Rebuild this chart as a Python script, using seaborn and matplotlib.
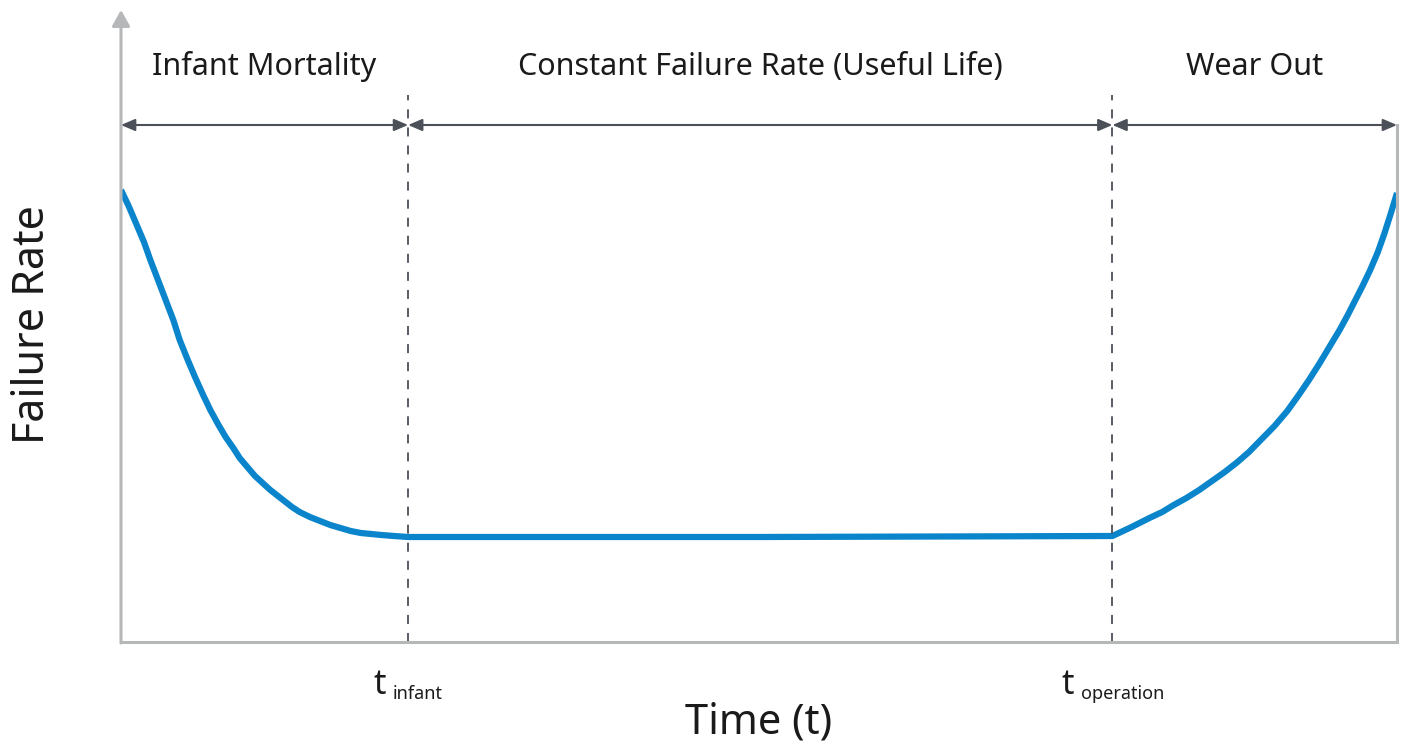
import seaborn as sns
import matplotlib.pyplot as plt
import pandas as pd

sns.set_theme(style="white")
plt.rcParams["font.family"] = ["Noto Sans", "DejaVu Sans"]

# bathtub curve (time 0..10, rate in arbitrary units)
time = [0.0, 0.06, 0.12, 0.18, 0.23, 0.29, 0.35, 0.41, 0.46, 0.52, 0.58, 0.64, 0.70,
        0.76, 0.82, 0.88, 0.93, 0.99, 1.05, 1.11, 1.17, 1.23, 1.29, 1.34, 1.40,
        1.48, 1.56, 1.64, 1.72, 1.80, 1.88, 1.96, 2.04, 2.14, 2.25, 5.0, 7.77,
        7.92, 8.06, 8.16, 8.25, 8.35, 8.45, 8.55, 8.65, 8.75, 8.84, 8.94, 9.04,
        9.14, 9.23, 9.31, 9.39, 9.47, 9.55, 9.61, 9.67, 9.73, 9.79, 9.85, 9.90,
        9.95, 10.0]
rate = [452, 436, 418, 400, 382, 362, 342, 322, 302, 283, 265, 248, 232,
        218, 205, 194, 184, 175, 166, 159, 152, 146, 140, 135, 130,
        125, 121, 117, 114, 111, 109, 108, 107, 106, 105, 105, 106,
        115, 124, 130, 137, 144, 152, 161, 170, 180, 190, 203, 216,
        231, 247, 262, 278, 295, 312, 326, 341, 356, 372, 390, 408,
        428, 449]
phases = ["Infant Mortality", "Constant Failure Rate (Useful Life)", "Wear Out"]
bounds = [0.0, 2.25, 7.77, 10.0]
bound_labels = ["infant", "operation"]

df = pd.DataFrame({"time": time, "rate": rate})

fig = plt.figure(figsize=(14.09, 7.49), dpi=100)
ax = fig.add_axes([121 / 1409, 107 / 749, 1276 / 1409, 632 / 749])

axis_col = "#b5b7b9"
dark = "#4b5059"

sns.lineplot(data=df, x="time", y="rate", ax=ax, color="#0a85cb", lw=4.5,
             solid_capstyle="butt")

ax.set_xlim(0, 10)
ax.set_ylim(0, 632)
ax.set_xticks([])
ax.set_yticks([])
ax.set_xlabel("")
ax.set_ylabel("")

for s in ["top", "left"]:
    ax.spines[s].set_visible(False)
for s in ["bottom", "right"]:
    ax.spines[s].set_color(axis_col)
    ax.spines[s].set_linewidth(2.2)
ax.spines["right"].set_bounds(0, 517)

# y axis with arrow head
ax.annotate("", xy=(0, 632), xytext=(0, -1), annotation_clip=False,
            arrowprops=dict(arrowstyle="-|>,head_length=0.8,head_width=0.45",
                            color=axis_col, lw=2.2, shrinkA=0, shrinkB=0))

# phase boundaries
for b in bounds[1:-1]:
    ax.plot([b, b], [0, 547], color=dark, lw=1.3, ls=(0, (5, 5)), clip_on=False)

# phase arrows and labels
for i, name in enumerate(phases):
    a, c = bounds[i], bounds[i + 1]
    ax.annotate("", xy=(c, 517), xytext=(a, 517), annotation_clip=False,
                arrowprops=dict(arrowstyle="<|-|>,head_length=0.7,head_width=0.3",
                                color=dark, lw=1.5, shrinkA=0, shrinkB=0))
    ax.text((a + c) / 2, 575, name, ha="center", va="center", fontsize=22,
            color="#1a1a1a")

# boundary labels: t with subscript (label groups roughly centred on the line)
shifts = {"infant": 0.0, "operation": -0.13}
for b, lab in zip(bounds[1:-1], bound_labels):
    x0 = b + shifts[lab]
    ax.text(x0 - 0.17, -43, "t", ha="right", va="center", fontsize=25,
            color="#1a1a1a", clip_on=False)
    ax.text(x0 - 0.12, -52, lab, ha="left", va="center", fontsize=13,
            color="#1a1a1a", clip_on=False)

ax.text(5.0, -80, "Time (t)", ha="center", va="center", fontsize=30,
        color="#1a1a1a", clip_on=False)
ax.text(-0.69, 317, "Failure Rate", ha="center", va="center", fontsize=31,
        rotation=90, color="#1a1a1a", clip_on=False)

fig.savefig("out.png", dpi=100)
